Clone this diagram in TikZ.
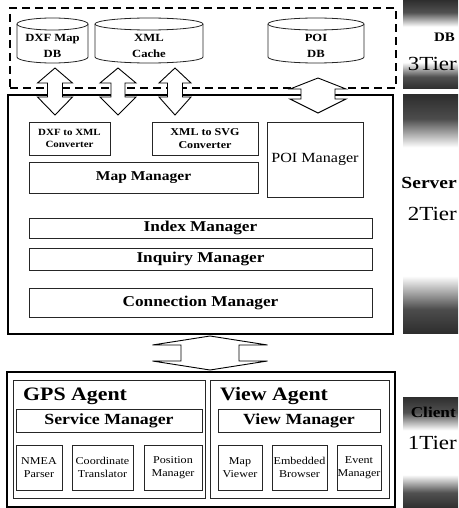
\documentclass[tikz,border=0pt]{standalone}
\usepackage{fontspec}
\setmainfont{Liberation Serif}[FakeStretch=1.15]

% grey tier bars: dark at both ends, light in the middle
\pgfdeclareverticalshading{shortbar}{100bp}{%
  color(0bp)=(black!82); color(25bp)=(black!82); color(32bp)=(black!68);
  color(40bp)=(white); color(60bp)=(white); color(68bp)=(black!68);
  color(75bp)=(black!82); color(100bp)=(black!82)}
\pgfdeclareverticalshading{tallbar}{100bp}{%
  color(0bp)=(black!82); color(25bp)=(black!82); color(30bp)=(black!70);
  color(37bp)=(white); color(64bp)=(white); color(70bp)=(black!70);
  color(75bp)=(black!82); color(100bp)=(black!82)}

\newcommand\fsz[2]{\fontsize{#1}{#2}\selectfont}

% rectangle node between two corners: style, name, x1, y1, x2, y2, text
\newcommand\rbox[7]{%
  \node[#1, minimum width={#5pt-#3pt}, minimum height={#6pt-#4pt}]
    (#2) at ({(#3+#5)/2},{(#4+#6)/2}) {#7};}

% database drum: name, left x, right x, top y, bottom y, text y, text
\newcommand\dbdrum[7]{%
  \draw[drum] (#2,#4+6) -- (#2,#5-6)
    arc[start angle=180,end angle=0,x radius={(#3-#2)/2},y radius=6]
    -- (#3,#4+6)
    arc[start angle=0,end angle=-180,x radius={(#3-#2)/2},y radius=6] -- cycle;
  \draw[drum] (#2,#4+6)
    arc[start angle=180,end angle=0,x radius={(#3-#2)/2},y radius=6];
  \node[drumtext] (#1) at ({(#2+#3)/2},#6) {#7};}

% two-headed block arrow: centre x, top tip y, bottom tip y,
% shaft half width, head half width, top head length, bottom head length
\newcommand\updown[7]{%
  \draw[blockarrow] (#1,#2) -- (#1+#5,#2+#6) -- (#1+#4,#2+#6) -- (#1+#4,#3-#7)
    -- (#1+#5,#3-#7) -- (#1,#3) -- (#1-#5,#3-#7) -- (#1-#4,#3-#7)
    -- (#1-#4,#2+#6) -- (#1-#5,#2+#6) -- cycle;}

\begin{document}
\begin{tikzpicture}[x=1pt,y=-1pt,
  box/.style={draw=black!85, line width=0.8pt, inner sep=0pt, outer sep=0pt, align=center},
  tier/.style={draw=black, line width=2.6pt, inner sep=0pt, outer sep=0pt},
  dbframe/.style={draw=black, line width=1.8pt, dash pattern=on 8pt off 5pt, inner sep=0pt},
  drum/.style={draw=black!85, line width=0.8pt, fill=white},
  drumtext/.style={font=\bfseries\fsz{11}{16}, align=center, inner sep=0pt},
  blockarrow/.style={draw=black, line width=0.9pt, fill=white, line join=miter},
  barlabel/.style={anchor=east, inner sep=0pt},
  bigbar/.style={box, font=\bfseries\fsz{15}{17}},
  small/.style={box, font=\fsz{10.5}{13.5}},
]
\useasboundingbox (0,0) rectangle (458,508);
\fill[white] (0,0) rectangle (458,508);

% tier bars on the right
\shade[shading=shortbar] (403,0) rectangle (458,89);
\shade[shading=tallbar] (403,95) rectangle (458,333);
\shade[shading=shortbar] (403,397) rectangle (458,508);
\node[barlabel, font=\bfseries\fsz{13}{15}] (dbl) at (455,37) {DB};
\node[barlabel, font=\fsz{20}{22}] (t3) at (457,64) {3Tier};
\node[barlabel, font=\bfseries\fsz{17}{19}] (srvl) at (457,183) {Server};
\node[barlabel, font=\fsz{20}{22}] (t2) at (457,214) {2Tier};
\node[barlabel, font=\bfseries\fsz{15}{17}] (cll) at (456,412) {Client};
\node[barlabel, font=\fsz{20}{22}] (t1) at (457,443) {1Tier};

% database tier
\rbox{dbframe}{dbtier}{10}{8}{396}{88}{}
\dbdrum{dxfdb}{17}{88}{18}{63}{46}{DXF Map\\DB}
\dbdrum{xmlcache}{95}{203}{18}{63}{46}{XML\\Cache}
\dbdrum{poidb}{268}{364}{18}{63}{46}{POI\\DB}

% server tier
\rbox{tier}{server}{8}{95}{393}{334}{}
\rbox{box, font=\bfseries\fsz{9.5}{12}}{dxfxml}{29}{122}{110}{155}{DXF to XML\\Converter}
\rbox{box, font=\bfseries\fsz{10.5}{12.5}}{xmlsvg}{152}{122}{258}{155}{XML to SVG\\Converter}
\rbox{box, font=\bfseries\fsz{13.5}{15}}{mapmgr}{29}{162}{258}{193}{Map Manager}
\rbox{box, font=\fsz{14}{16}}{poimgr}{267}{122}{363}{197}{POI Manager}
\rbox{bigbar}{index}{29}{218}{372}{238}{Index Manager}
\rbox{bigbar}{inquiry}{29}{248}{372}{270}{Inquiry Manager}
\rbox{bigbar}{connection}{29}{288}{372}{317}{Connection Manager}

% links between database and server tiers
\updown{55}{68}{115}{7.5}{17.5}{15}{18}
\updown{118}{68}{115}{7}{18}{15}{18}
\updown{175}{68}{115}{7.5}{16}{15}{18}
\updown{318}{78}{113}{17}{28}{11}{14}

% link between server and client tiers
\updown{210}{336}{370}{29}{57.5}{9}{9}

% client tier
\rbox{tier}{client}{7}{372}{395}{507}{}
\rbox{box}{gps}{13}{380}{205}{498}{}
\rbox{box}{view}{210}{380}{389}{498}{}
\node[anchor=base west, inner sep=0pt, font=\bfseries\fsz{19}{22}] (gpsl) at (23,400) {GPS Agent};
\node[anchor=base west, inner sep=0pt, font=\bfseries\fsz{19}{22}] (viewl) at (220,400) {View Agent};
\rbox{box, font=\bfseries\fsz{15.5}{17}}{service}{16}{409}{202}{432}{Service Manager}
\rbox{box, font=\bfseries\fsz{15.5}{17}}{viewmgr}{218}{409}{380}{432}{View Manager}
\rbox{small}{nmea}{16}{445}{62}{490}{NMEA\\Parser}
\rbox{small}{coord}{72}{445}{133}{490}{Coordinate\\Translator}
\rbox{small}{posmgr}{144}{445}{202}{490}{Position\\Manager}
\rbox{small}{mapview}{218}{445}{262}{490}{Map\\Viewer}
\rbox{small}{browser}{272}{445}{327}{490}{Embedded\\Browser}
\rbox{small}{event}{337}{445}{381}{490}{Event\\Manager}
\end{tikzpicture}
\end{document}
